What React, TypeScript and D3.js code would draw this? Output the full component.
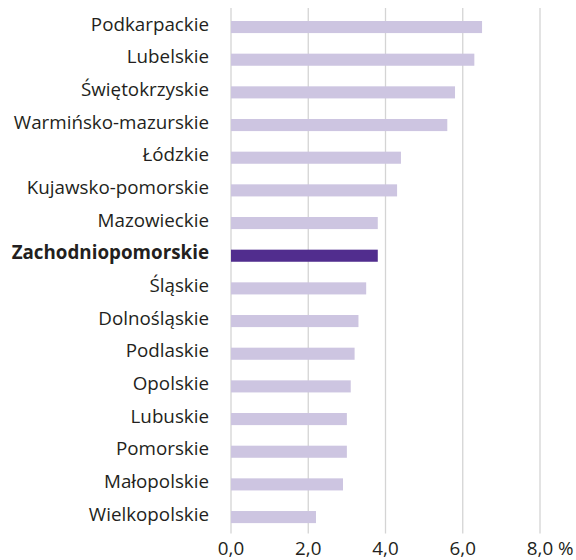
import React from "react";
import * as d3 from "d3";

const regions = [
  "Podkarpackie",
  "Lubelskie",
  "Świętokrzyskie",
  "Warmińsko-mazurskie",
  "Łódzkie",
  "Kujawsko-pomorskie",
  "Mazowieckie",
  "Zachodniopomorskie",
  "Śląskie",
  "Dolnośląskie",
  "Podlaskie",
  "Opolskie",
  "Lubuskie",
  "Pomorskie",
  "Małopolskie",
  "Wielkopolskie",
];
const values = [6.5, 6.3, 5.8, 5.6, 4.4, 4.3, 3.8, 3.8, 3.5, 3.3, 3.2, 3.1, 3.0, 3.0, 2.9, 2.2];
const highlighted = "Zachodniopomorskie";
const ticks = [0, 2, 4, 6, 8];
const tickLabels = ["0,0", "2,0", "4,0", "6,0", "8,0"];
const unitLabel = "%";

export default function App() {
  const W = 576;
  const H = 560;
  const x = d3.scaleLinear().domain([0, 8]).range([231, 540]);
  const y = d3
    .scaleBand<string>()
    .domain(regions)
    .range([10.7, 533.4])
    .paddingInner(0.63)
    .paddingOuter(0.315);
  const font = "'Open Sans', sans-serif";
  const fs = 18.8;
  return (
    <svg
      width={W}
      height={H}
      style={{ position: "absolute", left: 0, top: 0, background: "#fff" }}
    >
      {ticks.map((t) => (
        <line
          key={t}
          x1={x(t)}
          x2={x(t)}
          y1={8}
          y2={533.4}
          stroke="#d4d4d4"
          strokeWidth={1.3}
        />
      ))}
      {regions.map((r, i) => (
        <rect
          key={r}
          x={x(0)}
          y={y(r)}
          width={x(values[i]) - x(0)}
          height={y.bandwidth()}
          fill={r === highlighted ? "#512d8e" : "#cdc5e1"}
        />
      ))}
      {regions.map((r) => (
        <text
          key={r}
          x={209}
          y={(y(r) ?? 0) + y.bandwidth() / 2 + 3.5}
          textAnchor="end"
          fontFamily={font}
          fontSize={fs}
          fontWeight={r === highlighted ? 700 : 400}
          fill="#231f20"
        >
          {r}
        </text>
      ))}
      {ticks.map((t, i) => (
        <text
          key={t}
          x={x(t)}
          y={555}
          textAnchor="middle"
          fontFamily={font}
          fontSize={fs}
          fill="#231f20"
        >
          {tickLabels[i]}
        </text>
      ))}
      <text
        x={x(8) + 18}
        y={555}
        textAnchor="start"
        fontFamily={font}
        fontSize={fs}
        fill="#231f20"
      >
        {unitLabel}
      </text>
    </svg>
  );
}
